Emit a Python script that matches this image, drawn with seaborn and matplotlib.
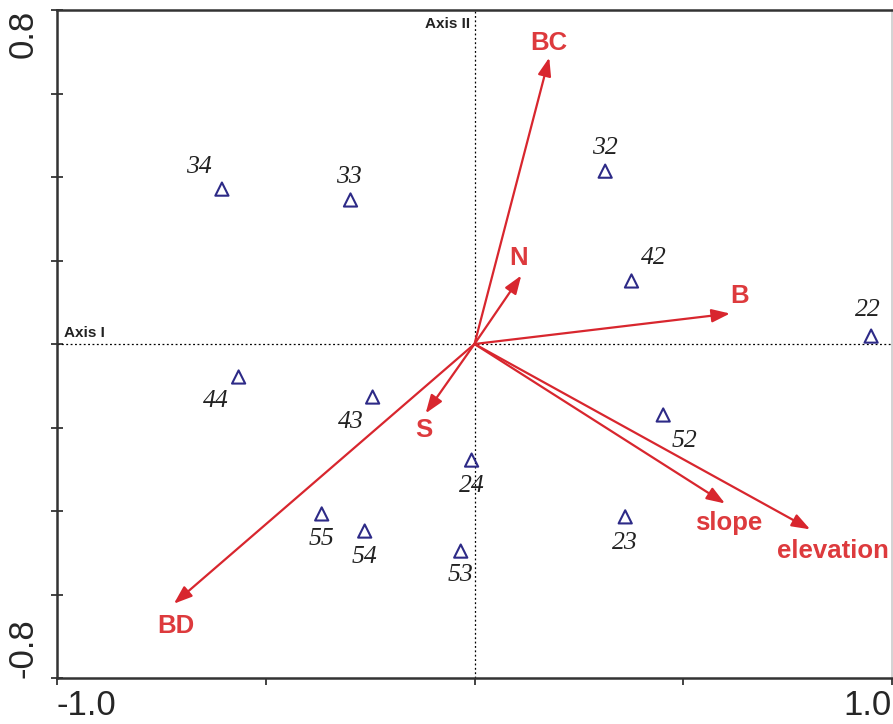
import matplotlib.pyplot as plt
import seaborn as sns
import pandas as pd

sns.set_style('white')
plt.rcParams['font.family'] = ['Liberation Sans', 'DejaVu Sans']

# site scores (triangles)
sites = ['34', '33', '32', '42', '22', '44', '43', '52', '24', '55', '54', '53', '23']
site_x = [-0.605, -0.297, 0.313, 0.376, 0.950, -0.565, -0.244, 0.452, -0.007, -0.366, -0.263, -0.033, 0.361]
site_y = [0.371, 0.345, 0.414, 0.151, 0.019, -0.079, -0.127, -0.170, -0.278, -0.407, -0.448, -0.496, -0.414]

# environmental vectors
variables = ['BC', 'N', 'B', 'S', 'BD', 'slope', 'elevation']
var_x = [0.179, 0.112, 0.612, -0.117, -0.720, 0.600, 0.804]
var_y = [0.686, 0.164, 0.073, -0.166, -0.622, -0.382, -0.444]

# label offsets in pixels (dx right, dy down)
site_off = {'34': (-23, -22), '33': (-2, -23), '32': (0, -23), '42': (22, -23),
            '22': (-3, -26), '44': (-23, 24), '43': (-22, 25), '52': (21, 26),
            '24': (0, 26), '55': (0, 25), '54': (0, 26), '53': (0, 24), '23': (0, 26)}
var_off = {'BC': (0, -15), 'N': (-3, -18), 'B': (10, -18), 'S': (-2, 17),
           'BD': (2, 22), 'slope': (4, 20), 'elevation': (23, 22)}

red = '#d8262e'
red_txt = '#dd3a3d'
navy = '#2d2a87'

df = pd.DataFrame({'site': sites, 'x': site_x, 'y': site_y})

fig = plt.figure(figsize=(8.93, 7.24), dpi=100)
fig.set_facecolor('white')
ax = fig.add_axes([57 / 893, 46 / 724, 835 / 893, 668 / 724])

ax.axhline(0, color='black', lw=0.9, ls=(0, (1.5, 2)), zorder=1)
ax.axvline(0, color='black', lw=0.9, ls=(0, (1.5, 2)), zorder=1)

sns.scatterplot(data=df, x='x', y='y', marker='^', s=90, facecolor='none',
                edgecolor=navy, linewidth=1.5, ax=ax, zorder=3)

k = 0.72  # px -> points
for name, x, y in zip(sites, site_x, site_y):
    dx, dy = site_off[name]
    ax.annotate(name, xy=(x, y), xytext=(dx * k, -dy * k), textcoords='offset points',
                ha='center', va='center', fontsize=18.5, style='italic',
                family='Liberation Serif', color='#222222')

for name, x, y in zip(variables, var_x, var_y):
    ax.annotate('', xy=(x, y), xytext=(0, 0),
                arrowprops=dict(arrowstyle='-|>,head_length=0.55,head_width=0.2',
                                color=red, lw=1.6, mutation_scale=20,
                                shrinkA=0, shrinkB=0), zorder=2)
    dx, dy = var_off[name]
    ax.annotate(name, xy=(x, y), xytext=(dx * k, -dy * k), textcoords='offset points',
                ha='center', va='center', fontsize=18.5, fontweight='bold', color=red_txt)

ax.annotate('Axis I', xy=(-1, 0), xytext=(5, 3), textcoords='offset points',
            ha='left', va='bottom', fontsize=11, fontweight='bold', color='#222222')
ax.annotate('Axis II', xy=(0, 0.8), xytext=(-3, -5), textcoords='offset points',
            ha='right', va='top', fontsize=11, fontweight='bold', color='#222222')

ax.set_xlim(-1.0, 1.0)
ax.set_ylim(-0.8, 0.8)
ax.set_xticks([-1.0, -0.5, 0.0, 0.5, 1.0])
ax.set_xticklabels(['-1.0', '', '', '', '1.0'])
ax.set_yticks([-0.8, -0.6, -0.4, -0.2, 0.0, 0.2, 0.4, 0.6, 0.8])
ax.set_yticklabels(['-0.8', '', '', '', '', '', '', '', '0.8'])
ax.set_xlabel('')
ax.set_ylabel('')

ax.tick_params(axis='y', direction='inout', length=9, width=1.2, labelsize=25,
               pad=8, color='#222222', left=True)
ax.tick_params(axis='x', direction='out', length=5, width=1.2, labelsize=25,
               pad=3, color='#222222', bottom=True)

ylabels = ax.get_yticklabels()
for t in ylabels:
    t.set_rotation(90)
    t.set_va('center')
ylabels[0].set_va('bottom')
ylabels[-1].set_va('top')
xlabels = ax.get_xticklabels()
xlabels[0].set_ha('left')
xlabels[-1].set_ha('right')

for side in ['left', 'bottom', 'top']:
    ax.spines[side].set_linewidth(1.8)
    ax.spines[side].set_color('#333333')
ax.spines['right'].set_linewidth(1.2)
ax.spines['right'].set_color('#cccccc')

fig.savefig('out.png', dpi=100)
